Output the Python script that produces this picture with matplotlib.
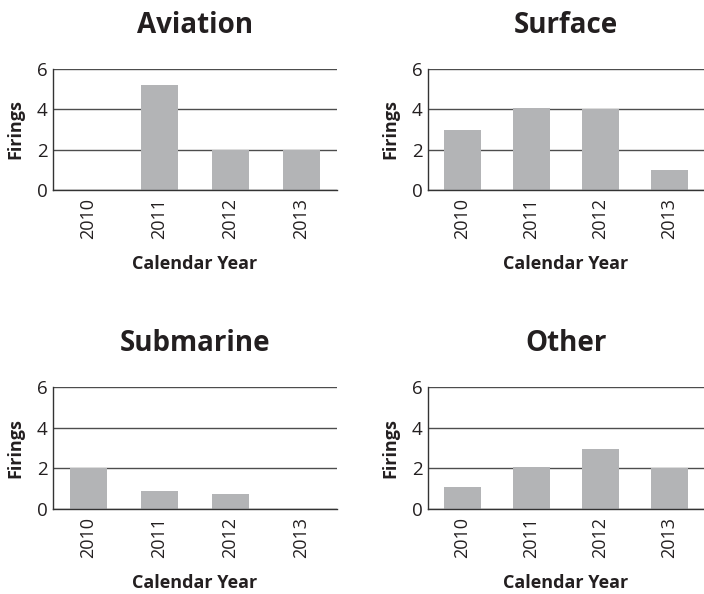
import matplotlib
matplotlib.use("Agg")
import matplotlib.pyplot as plt

years = ["2010", "2011", "2012", "2013"]
titles = ["Aviation", "Surface", "Submarine", "Other"]
aviation = [0, 5.22, 2.0, 2.0]
surface = [2.96, 4.08, 4.03, 0.98]
submarine = [2.02, 0.9, 0.76, 0]
other = [1.06, 2.05, 2.97, 2.0]
series = [aviation, surface, submarine, other]
yticks = [0, 2, 4, 6]

plt.rcParams['font.family'] = ['Open Sans', 'DejaVu Sans']

W, H = 704, 594
fig = plt.figure(figsize=(W / 100, H / 100), dpi=100)

# pixel boxes: left, top, right, bottom
boxes = [(53, 69, 337, 190), (428, 69, 704, 190),
         (53, 387, 337, 509), (428, 387, 704, 509)]

for title, vals, (l, t, r, b) in zip(titles, series, boxes):
    ax = fig.add_axes([l / W, 1 - b / H, (r - l) / W, (b - t) / H])
    x = range(len(years))
    ax.bar(x, vals, width=0.53, color="#b3b4b6", zorder=2)
    ax.set_xlim(-0.5, len(years) - 0.5)
    ax.set_ylim(0, 6)
    ax.set_yticks(yticks)
    ax.set_yticklabels([str(v) for v in yticks], fontsize=13.5, color="#231f20")
    ax.set_xticks(list(x))
    ax.set_xticklabels(years, rotation=90, fontsize=13, color="#231f20")
    ax.tick_params(axis="y", length=0, pad=4)
    ax.tick_params(axis="x", length=0, pad=6)
    ax.grid(axis="y", color="#4d4d4d", linewidth=1.0, zorder=1)
    for s in ["top", "right"]:
        ax.spines[s].set_visible(False)
    for s in ["left", "bottom"]:
        ax.spines[s].set_color("#333333")
        ax.spines[s].set_linewidth(1.0)
    ax.spines["bottom"].set_zorder(3)
    ax.set_ylabel("Firings", fontsize=13, fontweight="bold", color="#231f20", labelpad=9)
    ax.set_xlabel("Calendar Year", fontsize=13, fontweight="bold", color="#231f20", labelpad=11)
    ax.set_title(title, fontsize=20, fontweight="bold", color="#231f20", pad=26)

fig.savefig("out.png", dpi=100)
